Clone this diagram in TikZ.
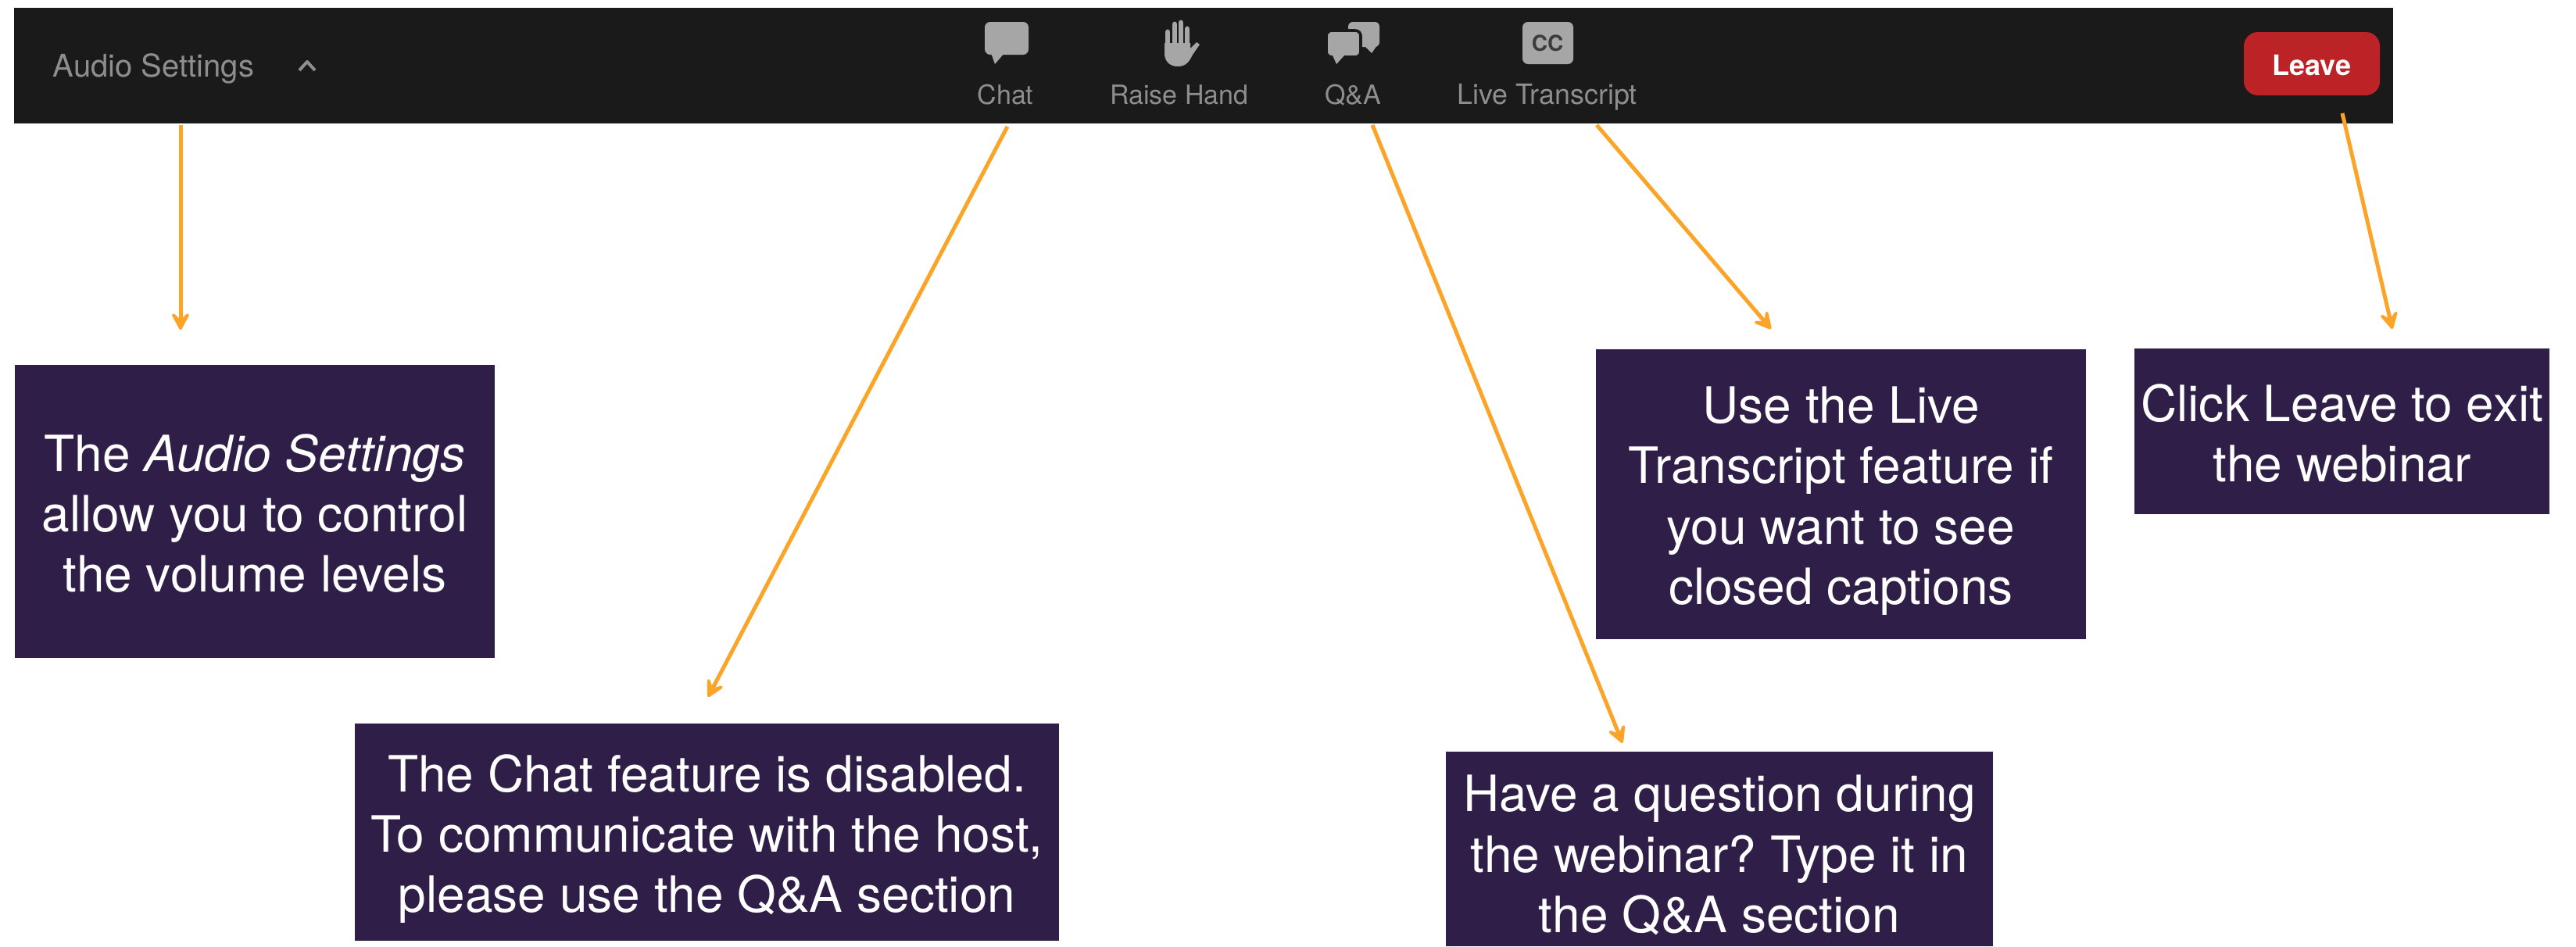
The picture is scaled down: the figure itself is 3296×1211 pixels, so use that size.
\documentclass[tikz,border=0pt]{standalone}
\usepackage{fontspec}
\setmainfont{TeX Gyre Heros}
\usetikzlibrary{arrows.meta}
\definecolor{barbg}{HTML}{1A1A1A}
\definecolor{panelbg}{HTML}{2F1F48}
\definecolor{arrowc}{HTML}{FBA428}
\definecolor{barlabel}{HTML}{8E8E8E}
\definecolor{iconc}{HTML}{A6A6A6}
\definecolor{leavered}{HTML}{BC2327}
\newcommand{\tp}{\rule{0pt}{35pt}}
\newcommand{\bt}[1]{\rule[-#1pt]{0pt}{#1pt}}
\tikzset{
  panel/.style={rectangle,fill=panelbg,text=white,inner sep=0pt,align=center,
    font=\fontsize{32}{38.65}\selectfont\frenchspacing},
  barlab/.style={anchor=base,inner sep=0pt,text=barlabel,font=\fontsize{17}{20}\selectfont},
  callout/.style={draw=arrowc,line width=2.5pt,
    -{Stealth[length=15pt,width=16pt,inset=7.5pt,round]}},
  icon/.style={fill=iconc,draw=none}
}
\begin{document}
\begin{tikzpicture}[x=.5pt,y=-.5pt]
\path[use as bounding box] (0,0) rectangle (3296,1211);
% toolbar
\node[rectangle,fill=barbg,inner sep=0pt,minimum width=1522pt,minimum height=74pt] (bar) at (1540,84) {};
\node[barlab,font=\fontsize{20}{24}\selectfont] (audiolab) at (196.5,98) {Audio Settings};
\draw[barlabel,line width=2pt,line join=round] (383,90) -- (393,79) -- (403,90);
\node[barlab] (chatlab) at (1286.5,133) {Chat};
\node[barlab] (handlab) at (1509,133) {Raise Hand};
\node[barlab] (qalab) at (1731,133) {Q\&A};
\node[barlab,font=\fontsize{17.9}{20}\selectfont] (livelab) at (1979.5,133) {Live Transcript};
\node[rectangle,fill=leavered,rounded corners=9pt,text=white,inner sep=0pt,minimum width=87pt,minimum height=40.5pt,
  font=\fontsize{18}{22}\selectfont\bfseries] (leavebtn) at (2958,81.5) {};
\node[anchor=base,inner sep=0pt,text=white,font=\fontsize{18}{22}\selectfont\bfseries] (leavelab) at (2958,96) {Leave};
% chat icon
\path[icon,rounded corners=3.5pt] (1260,28) rectangle (1316,70);
\path[icon] (1268,68) -- (1273,82) -- (1285,68) -- cycle;
% hand icon
\path[icon,line join=round] (1490,55) -- (1490,70) .. controls (1491,80) and (1498,85) .. (1507,85)
  .. controls (1518,85) and (1522,78) .. (1526,70) -- (1535,57) -- (1531,54) -- (1523,62) -- (1523,55) -- cycle;
\draw[iconc,line width=3.4pt,line cap=round] (1494,62) -- (1494,41);
\draw[iconc,line width=3.4pt,line cap=round] (1503,62) -- (1503,31);
\draw[iconc,line width=3.4pt,line cap=round] (1511,62) -- (1511,29);
\draw[iconc,line width=3.4pt,line cap=round] (1519,62) -- (1519,37);
% Q&A icon
\path[icon,rounded corners=3pt] (1725,28) rectangle (1765,60);
\path[icon] (1745,58) -- (1755,68) -- (1762,58) -- cycle;
\path[fill=iconc,draw=barbg,line width=1.8pt,rounded corners=3.5pt] (1697,39) rectangle (1741,73);
\path[icon] (1705,71) -- (1710,82) -- (1720,71) -- cycle;
% CC icon
\path[icon,rounded corners=3.5pt] (1948,28) rectangle (2013,82);
\node[inner sep=0pt,text=barbg!85!white,font=\fontsize{14}{16}\selectfont\bfseries] (cclab) at (1980,55) {CC};
% panels
\node[panel,minimum width=307pt,minimum height=187.5pt] (audiobox) at (326,654.5)
  {\tp The \textit{Audio Settings}\\allow you to control\\the volume levels\bt{9}};
\node[panel,minimum width=450.5pt,minimum height=139pt] (chatbox) at (904.5,1065)
  {\tp The Chat feature is disabled.\\To communicate with the host,\\please use the Q\&A section\bt{9.5}};
\node[panel,minimum width=350pt,minimum height=124.5pt] (qabox) at (2200,1086.5)
  {\tp Have a question during\\the webinar? Type it in\\the Q\&A section\bt{5.5}};
\node[panel,minimum width=313.5pt,minimum height=185.5pt] (livebox) at (2355.5,632.5)
  {\tp Use the Live\\Transcript feature if\\you want to see\\closed captions\bt{10}};
\node[panel,minimum width=265.5pt,minimum height=106pt] (leavebox) at (2996.5,552)
  {\tp Click Leave to exit\\the webinar\bt{9}};
% connector ends
\coordinate (a0) at (231,160);  \coordinate (a1) at (231,422);
\coordinate (c0) at (1289,162); \coordinate (c1) at (906,892);
\coordinate (q0) at (1756,160); \coordinate (q1) at (2076,951);
\coordinate (l0) at (2043,160); \coordinate (l1) at (2266,421);
\coordinate (v0) at (2997,145); \coordinate (v1) at (3061,421);
\draw[callout] (a0) -- (a1);
\draw[callout] (c0) -- (c1);
\draw[callout] (q0) -- (q1);
\draw[callout] (l0) -- (l1);
\draw[callout] (v0) -- (v1);
\end{tikzpicture}
\end{document}
